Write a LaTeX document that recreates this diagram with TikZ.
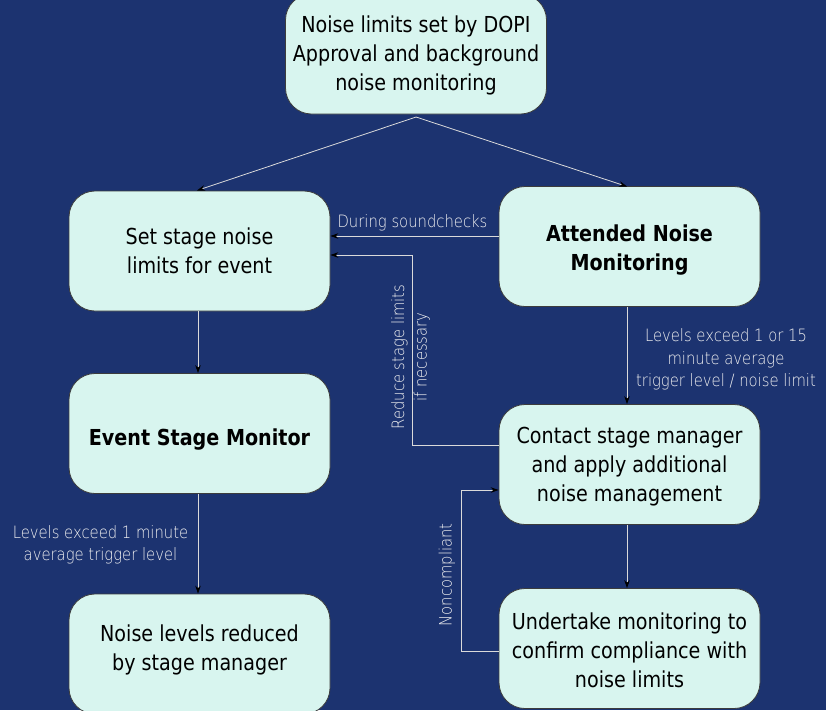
\documentclass[tikz,border=0pt]{standalone}
\usepackage{fontspec}
\setmainfont{DejaVu Sans}[FakeStretch=0.87]
\IfFontExistsTF{DejaVu Sans ExtraLight}
  {\newfontfamily\lblfont{DejaVu Sans ExtraLight}[FakeStretch=0.87]}
  {\newfontfamily\lblfont{DejaVu Sans}[FakeStretch=0.87]}
\usetikzlibrary{arrows.meta}
\definecolor{bgblue}{RGB}{28,51,112}
\definecolor{boxfill}{RGB}{216,245,239}
\definecolor{boxline}{RGB}{60,60,60}
\definecolor{linegray}{RGB}{218,218,218}
\definecolor{lbltext}{RGB}{242,242,242}
\begin{document}
\begin{tikzpicture}[x=1pt,y=-1pt,
  box/.style={draw=boxline,line width=0.8pt,fill=boxfill,rounded corners=26pt,
    minimum width=261pt,minimum height=120pt,align=center,text=black,
    font=\fontsize{22}{29}\selectfont,inner sep=0pt},
  tdown/.style={execute at begin node={\rule{0pt}{#1pt}}},
  tup/.style={execute at end node={\rule[-#1pt]{0pt}{0pt}}},
  lbl/.style={text=lbltext,align=center,font=\lblfont\fontsize{17}{22.5}\selectfont,inner sep=0pt},
  conn/.style={draw=linegray,line width=0.8pt,
    -{Stealth[color=black,length=8pt,width=5.5pt]}}]
\useasboundingbox (0,0) rectangle (826,710);
\fill[bgblue] (0,0) rectangle (826,710);

\node[box,tdown=77.7] (top) at (416,54) {Noise limits set by DOPI\\Approval and background\\noise monitoring};
\node[box] (set) at (199.5,251) {Set stage noise\\limits for event};
\node[box,tdown=52.2] (att) at (629.5,246.5) {\textbf{Attended Noise}\\\textbf{Monitoring}};
\node[box,tdown=28.2] (ev) at (199.5,433.5) {\textbf{Event Stage Monitor}};
\node[box,tdown=78.7] (con) at (629.5,464.5) {Contact stage manager\\and apply additional\\noise management};
\node[box,tup=12.2] (red) at (199.5,654) {Noise levels reduced\\by stage manager};
\node[box,tdown=78.7] (und) at (629.5,648.5) {Undertake monitoring to\\confirm compliance with\\noise limits};

\coordinate (fork) at (416,117);
\draw[conn] (fork) -- (197,190.5);
\draw[conn] (fork) -- (627,186.5);

\draw[conn] (att.west |- 0,236) -- (set.east |- 0,236);
\node[lbl] (l1) at (412.5,223) {During soundchecks};

\coordinate (r1) at (412,445);
\coordinate (r2) at (412,255);
\draw[conn] (con.west |- r1) -- (r1) -- (r2) -- (set.east |- r2);
\node[lbl,rotate=90] (l2) at (410.5,357) {Reduce stage limits\\if necessary};

\draw[conn] (set.south -| 198,0) -- (ev.north -| 198,0);
\draw[conn] (ev.south -| 198,0) -- (red.north -| 198,0);
\node[lbl] (l3) at (100.5,545) {Levels exceed 1 minute\\average trigger level};

\draw[conn] (att.south -| 627,0) -- (con.north -| 627,0);
\node[lbl] (l4) at (726,359.5) {Levels exceed 1 or 15\\minute average\\trigger level / noise limit};

\draw[conn] (con.south -| 627,0) -- (und.north -| 627,0);

\coordinate (n1) at (461,651);
\coordinate (n2) at (461,490);
\draw[conn] (und.west |- n1) -- (n1) -- (n2) -- (con.west |- n2);
\node[lbl,rotate=90] (l5) at (447,575) {Noncompliant};
\end{tikzpicture}
\end{document}
